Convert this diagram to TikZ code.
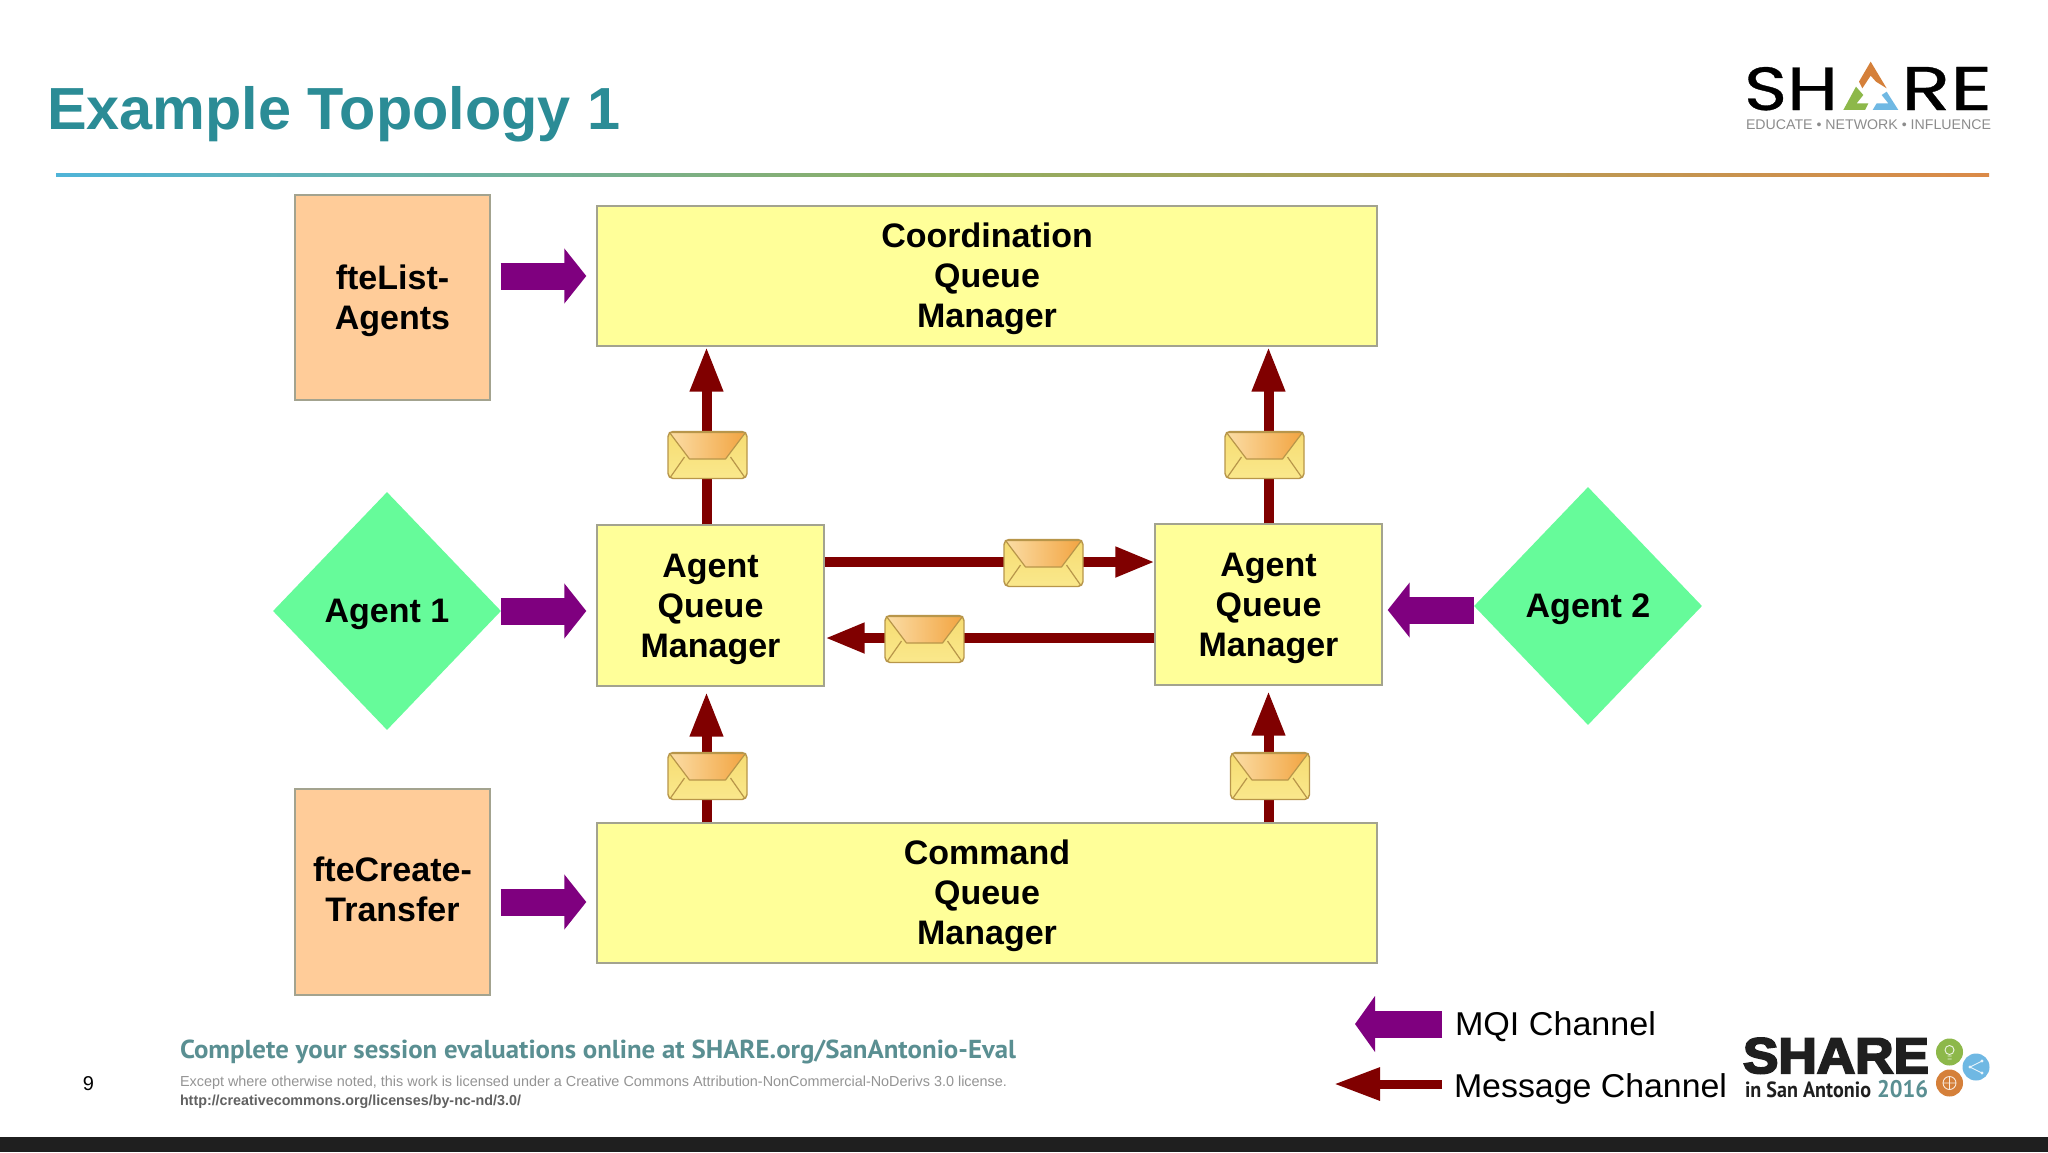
\documentclass[tikz,border=0pt]{standalone}
\usepackage{fontspec}
\usepackage{graphicx}
\usetikzlibrary{arrows.meta,shapes.geometric}
\setmainfont{Liberation Sans}
\newfontfamily\ptsans{PT Sans}
\newfontfamily\logofont[FakeBold=0.5]{Poppins}
\newfontfamily\heavyfont[UprightFont={* Bold},FakeBold=4]{Liberation Sans}
\definecolor{boxyellow}{HTML}{FFFF99}
\definecolor{boxorange}{HTML}{FFCC99}
\definecolor{boxline}{HTML}{A3A38F}
\definecolor{dgreen}{HTML}{66FB9A}
\definecolor{mqipurple}{HTML}{7F007F}
\definecolor{msgred}{HTML}{800000}
\definecolor{titleteal}{HTML}{2B8C96}
\definecolor{evalteal}{HTML}{5A8F92}
\definecolor{logoorange}{HTML}{D5803A}
\definecolor{logogreen}{HTML}{8DB84A}
\definecolor{logoblue}{HTML}{6FB8E3}
\definecolor{ruleblue}{HTML}{4FB4D8}
\definecolor{rulegreen}{HTML}{8FAE62}
\definecolor{ruleorange}{HTML}{DB8A48}
\definecolor{envline}{HTML}{B8964A}
\definecolor{envtop}{HTML}{F6DC72}
\definecolor{envbot}{HTML}{FAE88C}
\definecolor{flapl}{HTML}{FBDDA5}
\definecolor{flapr}{HTML}{F2A441}
\tikzset{
  qmbox/.style={draw=boxline,line width=1.4pt,fill=boxyellow,inner sep=0pt,align=center,
    font=\fontsize{34}{40}\selectfont\bfseries},
  cmdbox/.style={draw=boxline,line width=1.4pt,fill=boxorange,inner sep=0pt,align=center,
    font=\fontsize{34}{40}\selectfont\bfseries},
  agentd/.style={diamond,fill=dgreen,inner sep=0pt,minimum width=228pt,minimum height=238pt,
    font=\fontsize{34}{40}\selectfont\bfseries},
  mqi/.style={draw=mqipurple,line width=27pt,-{Triangle[length=22pt,width=54pt,fill=mqipurple]}},
  msg/.style={draw=msgred,line width=10pt,-{Triangle[length=45pt,width=31pt,fill=msgred]}},
  msgh/.style={draw=msgred,line width=10pt,-{Triangle[length=40pt,width=28pt,fill=msgred]}},
  env/.style={draw=envline,line width=1.4pt,rounded corners=5pt,top color=envtop,bottom color=envbot,
    minimum width=79pt,minimum height=47pt,inner sep=0pt},
  plain/.style={inner sep=0pt,outer sep=0pt}
}
\newcommand{\dn}{\rule{0pt}{31pt}}
\newcommand{\mailenv}[3]{%
  \node[env] (#1) at (#2,#3) {};
  \begin{scope}[shift={(#1.center)}]
    \shade[left color=flapl,right color=flapr,draw=envline,line width=1.2pt,line join=round]
      (-38,-22.5) -- (-18,4) -- (18,4) -- (38,-22.5) -- cycle;
    \draw[envline,line width=1.2pt] (-37,22) -- (-23,2) (37,22) -- (23,2);
  \end{scope}}
\begin{document}
\begin{tikzpicture}[x=1pt,y=-1pt]
\useasboundingbox (0,0) rectangle (2048,1152);
\fill[white] (0,0) rectangle (2048,1152);
% footer bar
\fill[black!88] (0,1137) rectangle (2048,1152);
% title and rule
\node[plain,anchor=base west,text=titleteal,font=\fontsize{59.4}{60}\selectfont\bfseries] (title) at (47,129.5) {Example Topology 1};
\shade[left color=ruleblue,right color=rulegreen] (56,173) rectangle (940,176.5);
\shade[left color=rulegreen,right color=ruleorange] (940,173) rectangle (1989,176.5);
% top right logo
\node[plain,anchor=base west,font=\logofont] (logoa) at (1744,110) {\resizebox{94pt}{43pt}{SH}};
\node[plain,anchor=base west,font=\logofont] (logob) at (1901,110) {\resizebox{91pt}{43pt}{RE}};
\begin{scope}[shift={(1700,40)},x=.3333pt,y=-.3333pt]
  \fill[logoorange] (512,65) -- (560,145) -- (528,125) -- (512,107) -- (487,145) -- (477,125) -- cycle;
  \fill[logogreen] (468,140) -- (490,165) -- (470,190) -- (505,190) -- (495,210) -- (430,210) -- cycle;
  \fill[logoblue] (560,155) -- (595,210) -- (518,210) -- (530,190) -- (565,190) -- (545,165) -- cycle;
\end{scope}
\node[plain,anchor=base west,text=black!45] (tag) at (1746,129) {\resizebox{245pt}{\height}{\fontsize{14}{16}\selectfont EDUCATE • NETWORK • INFLUENCE}};
% boxes
\node[cmdbox,minimum width=195pt,minimum height=205pt] (fl) at (392.5,297.5) {\dn fteList-\\Agents};
\node[qmbox,minimum width=780pt,minimum height=140pt] (cq) at (987,276) {\dn Coordination\\Queue\\Manager};
\node[qmbox,minimum width=227pt,minimum height=161pt] (aq1) at (710.5,605.5) {\dn Agent\\Queue\\Manager};
\node[qmbox,minimum width=227pt,minimum height=161pt] (aq2) at (1268.5,604.5) {\dn Agent\\Queue\\Manager};
\node[qmbox,minimum width=780pt,minimum height=140pt] (cmd) at (987,893) {\dn Command\\Queue\\Manager};
\node[cmdbox,minimum width=195pt,minimum height=206pt] (fc) at (392.5,892) {fteCreate-\\Transfer\rule[-5pt]{0pt}{1pt}};
\node[agentd] (a1) at (387,611) {\dn Agent 1\hspace{5pt}};
\node[agentd] (a2) at (1588,606) {\dn Agent 2\hspace{5pt}};
% MQI connectors
\draw[mqi,shorten <=10pt,shorten >=10pt] (fl.east |- cq.west) -- (cq.west);
\draw[mqi,shorten >=10pt] (a1.east) -- (aq1.west |- a1.east);
\draw[mqi,shorten <=10pt,shorten >=10pt] ([yshift=-9pt]fc.east |- cmd.west) -- ([yshift=-9pt]cmd.west);
\draw[mqi,shorten >=5pt] ([yshift=-4pt]a2.west) -- ([yshift=-4pt]aq2.east |- a2.west);
% message connectors
\draw[msg] ([xshift=-4pt]aq1.north) -- ([xshift=-4pt]aq1.north |- cq.south);
\draw[msg] (aq2.north) -- (aq2.north |- cq.south);
\draw[msg,shorten >=5pt] ([xshift=-4pt]aq1.south |- cmd.north) -- ([xshift=-4pt]aq1.south);
\draw[msg,shorten >=5pt] (aq2.south |- cmd.north) -- (aq2.south);
\draw[msgh,shorten >=-1pt] ([yshift=43.5pt]aq1.east) -- ([yshift=43.5pt]aq1.east -| aq2.west);
\draw[msgh] ([yshift=-33.5pt]aq2.west) -- ([yshift=-33.5pt]aq2.west -| aq1.east);
% envelopes
\mailenv{e1}{707.5}{455}
\mailenv{e2}{1264.5}{455}
\mailenv{e3}{1043.5}{563}
\mailenv{e4}{924.5}{639}
\mailenv{e5}{707.5}{776}
\mailenv{e6}{1270}{776}
% legend
\coordinate (lm1) at (1442,1024);
\coordinate (lm2) at (1355,1024);
\coordinate (lr1) at (1442,1084);
\coordinate (lr2) at (1334,1084);
\draw[draw=mqipurple,line width=27pt,-{Triangle[length=20pt,width=55pt,fill=mqipurple]}] (lm1) -- (lm2);
\draw[draw=msgred,line width=9pt,-{Triangle[length=46pt,width=31pt,fill=msgred]}] (lr1) -- (lr2);
\node[plain,anchor=base west] (lt1) at (1455,1035) {\resizebox{201pt}{\height}{\fontsize{33}{36}\selectfont MQI Channel}};
\node[plain,anchor=base west] (lt2) at (1454,1097) {\resizebox{273pt}{\height}{\fontsize{33}{36}\selectfont Message Channel}};
% footer text
\node[plain,anchor=base west,text=evalteal] (ev) at (180,1058) {\resizebox{836pt}{\height}{\ptsans\bfseries\fontsize{26}{28}\selectfont Complete your session evaluations online at SHARE.org/SanAntonio-Eval}};
\node[plain,anchor=base,font=\fontsize{20}{22}\selectfont] (pg) at (88.5,1090) {9};
\node[plain,anchor=base west,text=black!42] (lic) at (180,1086) {\resizebox{827pt}{\height}{\fontsize{14.5}{16}\selectfont Except where otherwise noted, this work is licensed under a Creative Commons Attribution-NonCommercial-NoDerivs 3.0 license.}};
\node[plain,anchor=base west,text=black!62] (url) at (180,1105) {\resizebox{341pt}{\height}{\fontsize{14.5}{16}\selectfont\bfseries http://creativecommons.org/licenses/by-nc-nd/3.0/}};
% bottom right logo
\node[plain,anchor=base west,text=black!88] (sl) at (1743,1073) {\resizebox{186pt}{35pt}{\heavyfont\fontsize{50}{50}\selectfont SHARE}};
\node[plain,anchor=base west,text=black!88] (sa) at (1745,1097) {\resizebox{126pt}{\height}{\ptsans\bfseries\fontsize{22}{24}\selectfont in San Antonio}};
\node[plain,anchor=base west,text=evalteal] (sy) at (1877,1097) {\resizebox{51pt}{\height}{\ptsans\bfseries\fontsize{24}{26}\selectfont 2016}};
\fill[logogreen] (1949.5,1052) circle (13.5);
\fill[logoblue] (1976,1067) circle (13.5);
\fill[logoorange] (1949.5,1083) circle (13.5);
\draw[white!85!logogreen,line width=.9pt] (1949.5,1050) circle (4.5) (1947.5,1056) -- (1951.5,1056) (1947.5,1059) -- (1951.5,1059);
\draw[white!85!logoblue,line width=.9pt] (1982,1061) -- (1970,1067) -- (1982,1073);
\fill[white!85!logoblue] (1982,1061) circle (1.7) (1970,1067) circle (1.7) (1982,1073) circle (1.7);
\draw[white!85!logoorange,line width=.9pt] (1949.5,1083) circle (6.5) (1943,1083) -- (1956,1083) (1949.5,1076.5) -- (1949.5,1089.5);
\end{tikzpicture}
\end{document}
